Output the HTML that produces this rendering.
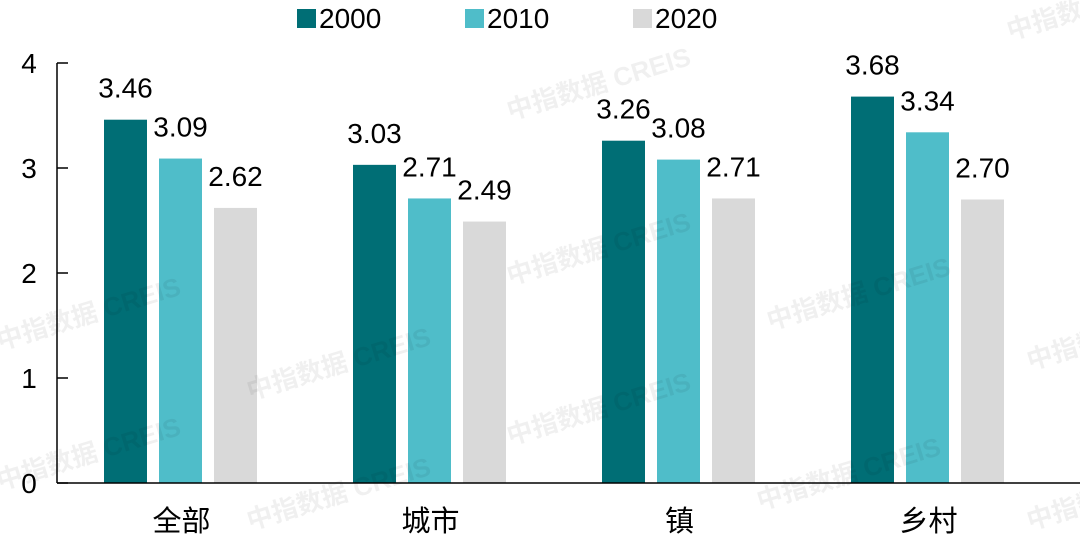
<!DOCTYPE html>
<html><head><meta charset="utf-8"><style>
html,body{margin:0;padding:0;background:#fff}
svg text{font-family:"Liberation Sans","Noto Sans CJK SC",sans-serif}
</style></head><body>
<svg id="chart" width="1080" height="542" viewBox="0 0 1080 542" xmlns="http://www.w3.org/2000/svg">
<g id="bars"></g>
<g id="axes"></g>
<g id="legend"></g>
<g id="wm"></g>
</svg>
<script>
const categories = ["全部","城市","镇","乡村"];
const seriesNames = ["2000","2010","2020"];
const s2000 = [3.46,3.03,3.26,3.68];
const s2010 = [3.09,2.71,3.08,3.34];
const s2020 = [2.62,2.49,2.71,2.70];
const yTicks = [0,1,2,3,4];
const colors = ["#006e75","#4fbdc9","#d9d9d9"];
const NS="http://www.w3.org/2000/svg";
const x0=57,x1=1053,yBase=483,yTop=63,yMax=4;
const band=(x1-x0)/categories.length;
function yScale(v){return yBase-(v/yMax)*(yBase-yTop);}
function xCenter(i){return x0+(i+0.5)*band;}
function mk(tag,attrs,parent){const e=document.createElementNS(NS,tag);for(const k in attrs)e.setAttribute(k,attrs[k]);parent.appendChild(e);return e;}
const bars=document.getElementById('bars');
const series=[s2000,s2010,s2020];
series.forEach((s,j)=>{
 s.forEach((v,i)=>{
  const cx=xCenter(i)+(j-1)*55-1;
  const r=mk('rect',{x:cx-21.5,y:yScale(v),width:43,height:yBase-yScale(v),fill:colors[j]},bars);
  
  
  const t=mk('text',{x:cx,y:yScale(v)-22,'font-size':28,'text-anchor':'middle',fill:'#000'},bars);
  
  
  t.textContent=v.toFixed(2);
 });
});
const axes=document.getElementById('axes');
const ya=mk('line',{x1:x0,y1:yTop,x2:x0,y2:yBase,stroke:'#000','stroke-width':1.5},axes);


const xa=mk('line',{x1:x0,y1:yBase,x2:x1+30,y2:yBase,stroke:'#000','stroke-width':1.5},axes);


yTicks.forEach(v=>{
 const y=yScale(v);
 const l=mk('line',{x1:x0,y1:y,x2:x0+11,y2:y,stroke:'#000','stroke-width':1.5},axes);
 
 
 const t=mk('text',{x:29,y:y+10,'font-size':28,'text-anchor':'middle',fill:'#000'},axes);
 
 
 t.textContent=v;
});
categories.forEach((c,i)=>{
 const t=mk('text',{x:xCenter(i),y:531,'font-size':29,'text-anchor':'middle',fill:'#000'},axes);
 
 
 t.textContent=c;
});
const lg=document.getElementById('legend');
seriesNames.forEach((n,j)=>{
 const lx=297+j*168;
 const r=mk('rect',{x:lx,y:9,width:19,height:19,fill:colors[j]},lg);
 
 
 const t=mk('text',{x:lx+22,y:28,'font-size':28,fill:'#000'},lg);
 
 
 t.textContent=n;
});
const wm=document.getElementById('wm');
[[0,350],[250,400],[510,285],[510,445],[770,330],[1030,370],[510,120],[0,490],[250,530],[1010,40],[1030,530],[760,510]].forEach(p=>{
 const t=mk('text',{x:p[0],y:p[1],'font-size':26,fill:'#000','fill-opacity':0.06,transform:`rotate(-17 ${p[0]} ${p[1]})`,'font-weight':'bold'},wm);
 
 
 t.textContent='中指数据 CREIS';
});
</script>
</body></html>
